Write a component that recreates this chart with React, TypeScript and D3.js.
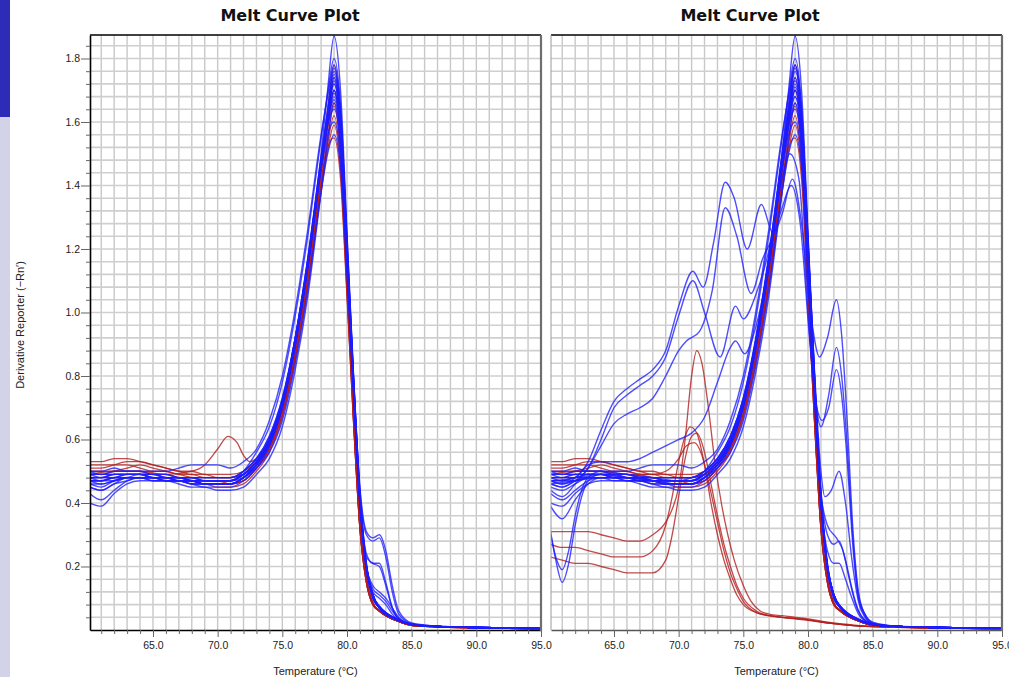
import React, { useEffect, useRef } from "react";
import * as d3 from "d3";

// shared temperature grid (°C) for the regular melt curves
const gridTemps = [60.1, 61, 62, 63, 64, 65, 66, 67, 68, 69, 70, 71, 72, 73, 74, 75, 76, 77, 78, 78.5,
  79, 79.5, 80, 80.5, 81, 81.5, 82, 82.5, 83, 83.5, 84, 85, 87, 90, 95];

// regular wells, blue (both plates)
const blueBand = [
  [.47,.47,.48,.49,.49,.48,.48,.48,.47,.46, .46,.46,.48,.52,.59,.71,.91,1.17,1.50,1.70, 1.87,1.70,1.25,.80,.42,.20, .11,.075,.055,.042,.032,.018,.011,.008,.005],
  [.49,.49,.50,.50,.50,.49,.49,.48,.48,.47, .47,.47,.50,.56,.64,.78,.99,1.25,1.55,1.69, 1.80,1.65,1.22,.79,.41,.19, .10,.07,.05,.04,.03,.017,.011,.008,.005],
  [.46,.45,.47,.48,.48,.48,.47,.47,.46,.46, .46,.46,.48,.52,.58,.70,.89,1.15,1.48,1.64, 1.77,1.62,1.21,.78,.40,.19, .10,.07,.05,.04,.03,.017,.011,.008,.005],
  [.50,.50,.51,.50,.50,.50,.50,.51,.52,.52, .52,.51,.53,.57,.66,.80,1.01,1.27,1.56,1.68, 1.78,1.64,1.24,.81,.43,.21, .11,.075,.055,.042,.032,.018,.011,.008,.005],
  [.40,.39,.43,.46,.47,.47,.47,.47,.46,.45, .45,.45,.47,.51,.58,.70,.90,1.16,1.47,1.62, 1.72,1.58,1.19,.77,.40,.20, .11,.07,.05,.04,.03,.017,.011,.008,.005],
  [.43,.41,.44,.47,.48,.48,.48,.47,.47,.46, .46,.46,.48,.52,.59,.71,.90,1.15,1.46,1.60, 1.70,1.56,1.18,.78,.41,.20, .11,.07,.05,.04,.03,.017,.011,.008,.005],
  [.48,.47,.47,.48,.49,.49,.49,.48,.48,.48, .48,.48,.50,.54,.60,.72,.91,1.16,1.46,1.59, 1.68,1.55,1.17,.77,.41,.20, .11,.07,.05,.04,.03,.017,.011,.008,.005],
  [.47,.46,.47,.48,.48,.47,.47,.46,.45,.45, .44,.44,.45,.49,.54,.64,.82,1.06,1.38,1.54, 1.66,1.53,1.16,.76,.40,.19, .10,.07,.05,.04,.03,.017,.011,.008,.005],
  [.49,.48,.49,.49,.49,.48,.48,.48,.47,.47, .47,.47,.49,.53,.60,.72,.92,1.18,1.48,1.61, 1.74,1.60,1.21,.80,.43,.21, .11,.075,.055,.042,.032,.018,.011,.008,.005],
  [.45,.44,.46,.48,.48,.48,.48,.47,.47,.47, .47,.47,.49,.53,.60,.72,.92,1.17,1.47,1.59, 1.64,1.52,1.16,.77,.41,.20, .11,.07,.05,.04,.03,.017,.011,.008,.005],
  [.48,.48,.48,.49,.49,.49,.48,.48,.48,.47, .47,.47,.49,.53,.59,.71,.90,1.15,1.45,1.56, 1.60,1.49,1.14,.76,.41,.20, .11,.07,.05,.04,.03,.017,.011,.008,.005],
  [.50,.49,.49,.49,.49,.48,.48,.48,.47,.47, .47,.47,.48,.51,.56,.66,.84,1.08,1.38,1.50, 1.56,1.46,1.12,.75,.41,.20, .11,.07,.05,.04,.03,.017,.011,.008,.005],
];

// regular wells, red (both plates)
const redBand = [
  [.53,.53,.54,.54,.53,.52,.51,.50,.49,.49, .48,.48,.49,.52,.58,.70,.89,1.15,1.47,1.64, 1.78,1.60,1.15,.70,.34,.16, .085,.06,.045,.035,.027,.015,.01,.007,.004],
  [.51,.51,.52,.53,.53,.52,.51,.50,.50,.49, .49,.49,.50,.53,.59,.70,.89,1.14,1.45,1.61, 1.74,1.57,1.13,.69,.33,.16, .085,.06,.045,.035,.027,.015,.01,.007,.004],
  [.49,.49,.50,.51,.52,.51,.50,.49,.48,.47, .47,.46,.47,.51,.57,.68,.87,1.12,1.43,1.58, 1.70,1.54,1.11,.68,.33,.16, .085,.06,.045,.035,.027,.015,.01,.007,.004],
  [.48,.48,.49,.49,.49,.49,.48,.47,.47,.46, .46,.46,.47,.51,.57,.68,.86,1.11,1.41,1.55, 1.65,1.50,1.09,.67,.32,.15, .08,.06,.045,.035,.027,.015,.01,.007,.004],
  [.50,.50,.50,.50,.50,.49,.49,.48,.47,.46, .46,.46,.47,.51,.57,.68,.86,1.10,1.40,1.53, 1.62,1.47,1.07,.66,.32,.15, .08,.06,.045,.035,.027,.015,.01,.007,.004],
  [.47,.47,.48,.48,.48,.48,.47,.47,.46,.46, .45,.45,.46,.50,.56,.67,.85,1.09,1.38,1.51, 1.59,1.45,1.06,.66,.32,.15, .08,.06,.045,.035,.027,.015,.01,.007,.004],
  [.52,.52,.52,.52,.51,.50,.50,.49,.49,.48, .48,.48,.49,.52,.58,.69,.87,1.11,1.41,1.52, 1.55,1.42,1.05,.66,.32,.15, .08,.06,.045,.035,.027,.015,.01,.007,.004],
];

// plate 1: wells with a second small peak near 82.5 °C
const plate1Shoulders = [
  [.47,.47,.48,.48,.48,.48,.48,.47,.47,.47, .47,.47,.49,.53,.60,.72,.92,1.18,1.49,1.63, 1.76,1.62,1.22,.80,.45,.31, .29,.30,.25,.14,.06,.022,.012,.008,.005],
  [.48,.48,.49,.49,.49,.49,.48,.48,.47,.47, .47,.47,.49,.53,.60,.72,.91,1.16,1.46,1.60, 1.70,1.57,1.19,.79,.44,.30, .28,.29,.23,.12,.05,.02,.012,.008,.005],
  [.46,.46,.47,.48,.48,.48,.47,.47,.47,.46, .46,.46,.48,.52,.59,.71,.90,1.16,1.47,1.61, 1.73,1.59,1.20,.78,.42,.24, .21,.21,.15,.07,.035,.018,.011,.008,.005],
  [.49,.49,.49,.49,.49,.48,.48,.48,.48,.48, .48,.48,.50,.54,.61,.73,.92,1.17,1.48,1.62, 1.75,1.61,1.21,.79,.42,.23, .21,.20,.14,.07,.035,.018,.011,.008,.005],
  [.47,.47,.48,.48,.48,.47,.47,.47,.46,.46, .46,.46,.48,.52,.59,.71,.90,1.15,1.46,1.60, 1.69,1.56,1.18,.78,.41,.20, .13,.11,.09,.06,.035,.018,.011,.008,.005],
  [.48,.48,.48,.48,.48,.48,.47,.47,.47,.46, .46,.46,.48,.52,.59,.71,.91,1.16,1.47,1.61, 1.72,1.58,1.19,.78,.41,.20, .14,.12,.10,.07,.04,.018,.011,.008,.005],
  [.45,.44,.46,.47,.48,.48,.48,.48,.48,.48, .48,.48,.50,.54,.61,.73,.92,1.17,1.47,1.60, 1.67,1.54,1.16,.77,.41,.20, .12,.10,.08,.05,.03,.017,.011,.008,.005],
];

// plate 1: red well with a bump at 71 °C  [temp, value]
const plate1RedBump = [[60.1,.49],[62,.50],[64,.50],[66,.49],[68,.50],[69,.52],[70,.57],[70.8,.61],[71.5,.59],[72,.55],
  [72.5,.53],[73,.54],[74,.60],[75,.71],[76,.90],[77,1.15],[78,1.45],[78.5,1.58],[79,1.66],[79.5,1.50],[80,1.10],
  [80.5,.68],[81,.33],[81.5,.16],[82,.085],[83,.045],[84,.027],[85,.015],[87,.01],[90,.007],[95,.004]];

// plate 2: irregular blue wells  [temp, value]
const plate2Blue = [
  [[60.1,.47],[61,.46],[62,.48],[63,.53],[64,.63],[65,.72],[66,.76],[67,.79],[68,.82],[69,.88],[70,1.02],[71.1,1.13],
   [71.9,1.08],[72.7,1.22],[73.6,1.41],[74.3,1.36],[75.3,1.20],[76.4,1.34],[77.3,1.25],[78,1.31],[78.8,1.42],[79.5,1.28],
   [80.2,1.00],[80.9,.86],[81.5,.92],[82.2,1.04],[82.6,.93],[83,.68],[83.5,.30],[83.9,.12],[84.4,.05],[85,.025],[87,.012],[90,.008],[95,.005]],
  [[60.1,.44],[61,.42],[62,.46],[63,.51],[64,.58],[65,.65],[66,.68],[67,.70],[68,.73],[69,.80],[70,.88],[70.6,.91],
   [71.6,.94],[72.6,1.07],[73.6,1.33],[74.5,1.24],[75.6,1.06],[76.5,1.17],[77.3,1.24],[78,1.33],[78.7,1.40],[79.4,1.28],
   [80.2,.88],[81,.64],[81.6,.74],[82.2,.89],[82.6,.80],[83,.60],[83.5,.27],[83.9,.11],[84.4,.05],[85,.022],[87,.011],[90,.008],[95,.005]],
  [[60.1,.46],[61,.45],[62,.47],[63,.51],[64,.60],[65,.70],[66,.74],[67,.77],[68,.80],[69,.86],[70,.99],[71.1,1.10],
   [72,1.00],[73.2,.86],[74.4,1.02],[75,.98],[76,1.06],[77,1.20],[78,1.42],[78.6,1.50],[79.3,1.42],[80,1.00],
   [80.6,.72],[81.1,.66],[81.6,.70],[82.2,.82],[82.6,.74],[83,.55],[83.5,.25],[83.9,.10],[84.4,.045],[85,.02],[87,.011],[90,.008],[95,.005]],
  [[60.1,.47],[62,.48],[63,.52],[64,.53],[66,.53],[67,.54],[68,.56],[69,.58],[70,.60],[71,.62],[72,.67],[73,.78],
   [74,.89],[74.4,.91],[75.1,.87],[76,.96],[77,1.16],[78,1.45],[78.5,1.58],[79,1.66],[79.5,1.52],[80,1.12],[80.5,.72],
   [81,.43],[81.5,.33],[82.2,.29],[82.7,.25],[83.2,.16],[83.7,.08],[84.2,.04],[85,.02],[87,.011],[90,.008],[95,.005]],
  [[60.1,.48],[62,.48],[64,.49],[66,.48],[68,.47],[70,.47],[71,.48],[72,.50],[73,.54],[74,.61],[75,.73],[76,.93],
   [77,1.19],[78,1.50],[78.5,1.64],[79,1.73],[79.5,1.60],[80,1.22],[80.5,.82],[81,.50],[81.3,.42],[81.8,.44],[82.4,.50],
   [82.9,.40],[83.4,.22],[83.9,.09],[84.4,.04],[85,.02],[87,.011],[90,.008],[95,.005]],
  [[60.1,.49],[62,.49],[64,.49],[66,.48],[68,.48],[70,.48],[71,.48],[72,.50],[73,.54],[74,.61],[75,.73],[76,.92],
   [77,1.18],[78,1.49],[78.5,1.63],[79,1.76],[79.5,1.62],[80,1.22],[80.5,.80],[81,.44],[81.5,.30],[82,.27],[82.4,.28],
   [82.9,.22],[83.4,.13],[83.9,.06],[84.4,.03],[85,.018],[87,.011],[90,.008],[95,.005]],
  [[60.1,.46],[62,.47],[64,.48],[66,.48],[68,.47],[70,.46],[71,.46],[72,.48],[73,.52],[74,.59],[75,.71],[76,.91],
   [77,1.17],[78,1.48],[78.5,1.62],[79,1.71],[79.5,1.58],[80,1.19],[80.5,.78],[81,.41],[81.5,.25],[82,.21],[82.4,.21],
   [82.9,.16],[83.4,.10],[83.9,.05],[84.4,.028],[85,.018],[87,.011],[90,.008],[95,.005]],
  [[60.1,.31],[60.5,.22],[61,.15],[61.5,.21],[62,.33],[62.5,.42],[63,.47],[64,.49],[66,.49],[68,.48],[70,.48],[71,.48],
   [72,.50],[73,.54],[74,.61],[75,.73],[76,.92],[77,1.18],[78,1.50],[78.5,1.66],[79,1.78],[79.5,1.63],[80,1.22],
   [80.5,.80],[81,.42],[81.5,.20],[82,.11],[83,.055],[84,.032],[85,.018],[87,.011],[90,.008],[95,.005]],
  [[60.1,.30],[60.5,.23],[61,.19],[61.5,.25],[62,.36],[62.5,.44],[63,.48],[64,.50],[66,.49],[68,.48],[70,.47],[71,.47],
   [72,.49],[73,.53],[74,.60],[75,.72],[76,.91],[77,1.16],[78,1.47],[78.5,1.61],[79,1.70],[79.5,1.57],[80,1.19],
   [80.5,.78],[81,.41],[81.5,.20],[82,.11],[83,.05],[84,.03],[85,.017],[87,.011],[90,.008],[95,.005]],
  [[60.1,.39],[61,.35],[62,.41],[63,.46],[64,.48],[66,.48],[68,.47],[70,.46],[71,.46],[72,.48],[73,.52],[74,.59],
   [75,.71],[76,.90],[77,1.15],[78,1.46],[78.5,1.60],[79,1.68],[79.5,1.55],[80,1.17],[80.5,.77],[81,.41],[81.5,.20],
   [82,.11],[83,.05],[84,.03],[85,.017],[87,.011],[90,.008],[95,.005]],
];

// plate 2: red wells that melt early around 71 °C  [temp, value]
const plate2Red = [
  [[60.1,.31],[61,.31],[62,.31],[63,.31],[64,.30],[65,.29],[66,.28],[67,.28],[68,.30],[69,.34],[69.5,.38],[70,.45],
   [70.5,.60],[71,.80],[71.4,.88],[71.8,.84],[72.3,.70],[72.8,.53],[73.3,.40],[73.8,.30],[74.3,.22],[75,.14],[75.6,.09],
   [76.3,.06],[77,.05],[78,.045],[80,.035],[82,.022],[84,.014],[87,.009],[90,.006],[95,.004]],
  [[60.1,.27],[61,.26],[62,.26],[63,.25],[64,.24],[65,.23],[66,.23],[67,.23],[68,.25],[69,.33],[69.5,.42],[70,.53],
   [70.5,.61],[70.9,.64],[71.4,.62],[72,.52],[72.5,.40],[73,.30],[73.5,.22],[74,.16],[74.5,.11],[75,.08],[76,.055],
   [77,.045],[78,.04],[80,.032],[82,.02],[84,.012],[87,.008],[90,.006],[95,.004]],
  [[60.1,.23],[61,.22],[62,.21],[63,.21],[64,.20],[65,.19],[66,.18],[67,.18],[68,.18],[69,.22],[69.5,.30],[70,.42],
   [70.5,.54],[71,.61],[71.4,.62],[72,.56],[72.5,.46],[73,.36],[73.5,.27],[74,.20],[74.5,.14],[75,.10],[76,.06],
   [77,.045],[78,.04],[80,.032],[82,.02],[84,.012],[87,.008],[90,.006],[95,.004]],
  [[60.1,.49],[62,.50],[64,.50],[66,.49],[68,.49],[69,.50],[70,.54],[70.6,.58],[71.2,.59],[71.8,.55],[72.4,.45],
   [73,.34],[73.5,.25],[74,.18],[74.5,.13],[75,.09],[76,.055],[77,.045],[78,.04],[80,.03],[82,.02],[84,.012],
   [87,.008],[90,.006],[95,.004]],
];

const xMajorTicks = [65, 70, 75, 80, 85, 90, 95];
const yMajorTicks = [0.2, 0.4, 0.6, 0.8, 1.0, 1.2, 1.4, 1.6, 1.8];

const BLUE = "#1c1cff";
const RED = "#b31d1d";
const FONT = "'Liberation Sans', Arial, sans-serif";

const onGrid = (vals: number[]) => vals.map((v, i) => [gridTemps[i], v]);

function drawPanel(g, { left, right, id, blue, red, withYAxis, title, titleX }) {
  const top = 35, bottom = 630;
  const x = d3.scaleLinear().domain([60.13, 95]).range([left, right]);
  const y = d3.scaleLinear().domain([0, 1.874]).range([bottom, top]);

  g.append("rect").attr("x", left).attr("y", top).attr("width", right - left)
    .attr("height", bottom - top).attr("fill", "#fff");

  // grid
  g.append("g").selectAll("line").data(d3.range(61, 95)).join("line")
    .attr("x1", d => x(d)).attr("x2", d => x(d)).attr("y1", top).attr("y2", bottom)
    .attr("stroke", "#c8c8c8").attr("stroke-width", 1.4);
  const yMinor = d3.range(1, 47).map(i => +(i * 0.04).toFixed(2));
  g.append("g").selectAll("line").data(yMinor).join("line")
    .attr("x1", left).attr("x2", right).attr("y1", d => y(d)).attr("y2", d => y(d))
    .attr("stroke", "#cfcfcf").attr("stroke-width", 1.6);

  // curves
  g.append("clipPath").attr("id", id).append("rect")
    .attr("x", left).attr("y", top).attr("width", right - left).attr("height", bottom - top);
  const line = d3.line().x(d => x(d[0])).y(d => y(Math.max(0.002, d[1]))).curve(d3.curveMonotoneX);
  const curves = g.append("g").attr("clip-path", `url(#${id})`).attr("fill", "none")
    .attr("stroke-linejoin", "round");
  curves.selectAll("path.red").data(red).join("path").attr("class", "red")
    .attr("d", line).attr("stroke", RED).attr("stroke-width", 1.3).attr("stroke-opacity", 0.8);
  curves.selectAll("path.blue").data(blue).join("path").attr("class", "blue")
    .attr("d", line).attr("stroke", BLUE).attr("stroke-width", 1.4).attr("stroke-opacity", 0.78);

  // x axis
  const xAxis = d3.axisBottom(x).tickValues(d3.range(61, 96)).tickSize(4).tickPadding(8).tickSizeOuter(0)
    .tickFormat(d => (xMajorTicks.includes(d) ? d.toFixed(1) : ""));
  const gx = g.append("g").attr("transform", `translate(0,${bottom})`).call(xAxis);
  gx.selectAll(".tick").filter(d => xMajorTicks.includes(d)).select("line").attr("y2", 7);
  gx.selectAll(".tick line").attr("stroke", "#666");
  gx.select(".domain").attr("stroke", withYAxis ? "#000" : "#555").attr("stroke-width", 1.6);
  gx.selectAll("text").attr("font-family", FONT).attr("font-size", 10.5).attr("fill", "#222");

  // borders
  g.append("line").attr("x1", left).attr("x2", right).attr("y1", top).attr("y2", top)
    .attr("stroke", "#000").attr("stroke-width", 1.6);
  g.append("line").attr("x1", right).attr("x2", right).attr("y1", top).attr("y2", bottom + 1)
    .attr("stroke", "#6e6e6e").attr("stroke-width", 2.2);

  if (withYAxis) {
    const yAxis = d3.axisLeft(y).tickValues(yMinor).tickSize(4).tickPadding(6).tickSizeOuter(0)
      .tickFormat(d => (yMajorTicks.some(m => Math.abs(m - d) < 1e-6) ? d.toFixed(1) : ""));
    const gy = g.append("g").attr("transform", `translate(${left},0)`).call(yAxis);
    gy.selectAll(".tick").filter(d => yMajorTicks.some(m => Math.abs(m - d) < 1e-6))
      .select("line").attr("x2", -9);
    gy.selectAll(".tick line").attr("stroke", "#666");
    gy.select(".domain").attr("stroke", "#000").attr("stroke-width", 1.6);
    gy.selectAll("text").attr("font-family", FONT).attr("font-size", 10.5).attr("fill", "#222");
  } else {
    g.append("line").attr("x1", left).attr("x2", left).attr("y1", top).attr("y2", bottom)
      .attr("stroke", "#9a9a9a").attr("stroke-width", 1);
  }

  g.append("text").attr("x", titleX).attr("y", 21).attr("text-anchor", "middle")
    .attr("font-family", "'DejaVu Sans', Verdana, sans-serif").attr("font-weight", "bold")
    .attr("font-size", 16).attr("fill", "#111").text(title);
  g.append("text").attr("x", (left + right) / 2).attr("y", 675).attr("text-anchor", "middle")
    .attr("font-family", FONT).attr("font-size", 11).attr("fill", "#222").text("Temperature (°C)");
}

export default function App() {
  const svgRef = useRef(null);

  useEffect(() => {
    const svg = d3.select(svgRef.current);
    svg.selectAll("*").remove();

    svg.append("rect").attr("x", 0).attr("y", 0).attr("width", 10).attr("height", 117).attr("fill", "#2c2cb9");
    svg.append("rect").attr("x", 0).attr("y", 117).attr("width", 10).attr("height", 560).attr("fill", "#d2d3e9");

    const band = blueBand.map(onGrid);
    const redRegular = redBand.map(onGrid);

    drawPanel(svg.append("g"), {
      left: 90, right: 541, id: "clip-plate1", withYAxis: true,
      title: "Melt Curve Plot", titleX: 290,
      red: [...redRegular, plate1RedBump],
      blue: [...band, ...plate1Shoulders.map(onGrid)],
    });
    drawPanel(svg.append("g"), {
      left: 551, right: 1002, id: "clip-plate2", withYAxis: false,
      title: "Melt Curve Plot", titleX: 750,
      red: [...redRegular, ...plate2Red],
      blue: [...band, ...plate2Blue],
    });

    svg.append("text").attr("transform", "translate(24,325) rotate(-90)").attr("text-anchor", "middle")
      .attr("font-family", FONT).attr("font-size", 11).attr("fill", "#222")
      .text("Derivative Reporter (−Rn′)");
  }, []);

  return (
    <svg ref={svgRef} width={1009} height={677}
      style={{ position: "absolute", left: 0, top: 0, background: "#fff" }} />
  );
}
